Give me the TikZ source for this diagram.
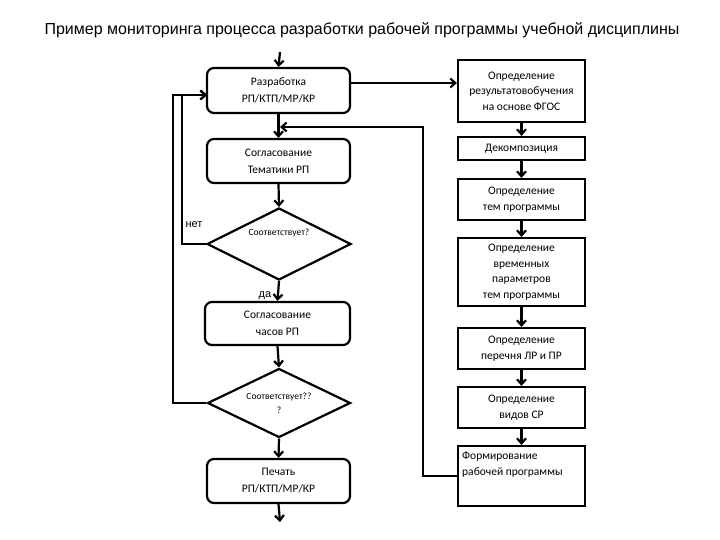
\documentclass[tikz,border=0pt]{standalone}
\usepackage{fontspec}
\setmainfont{Carlito}
\newfontfamily\titlefont{Liberation Sans}
\usetikzlibrary{arrows.meta,shapes.geometric}
\begin{document}
\begin{tikzpicture}[x=1pt,y=-1pt,
  lw/.style={line width=2.2pt},
  arr/.style={lw,-{Straight Barb[length=5pt,width=9pt,line width=2.2pt]}},
  rbox/.style={draw,lw,rounded corners=7pt,minimum width=143pt,align=center,
     font=\fontsize{11.5}{17}\selectfont,inner sep=0pt},
  sbox/.style={draw,lw,minimum width=127pt,align=center,
     font=\fontsize{11.5}{15.5}\selectfont,inner sep=0pt},
  dia/.style={draw,lw,diamond,aspect=2,minimum width=144pt,minimum height=72pt,
     inner sep=0pt,align=center,font=\fontsize{9.5}{14}\selectfont},
  lbl/.style={font=\fontsize{11}{13}\selectfont\titlefont}
]
\useasboundingbox (0,0) rectangle (720,540);
\node[font=\fontsize{16}{18}\selectfont\titlefont] (title) at (362,30)
  {Пример мониторинга процесса разработки рабочей программы учебной дисциплины};

% left column
\node[rbox,minimum height=45pt] (b1) at (278.5,90.5) {Разработка\\РП/КТП/МР/КР};
\node[rbox,minimum height=44pt] (b2) at (278.5,161) {Согласование\\Тематики РП};
\node[dia] (d1) at (279,244) {Соответствует?\\[10pt]};
\node[rbox,minimum width=145pt,minimum height=43pt] (b3) at (277.5,323.5) {Согласование\\часов РП};
\node[dia,minimum width=143pt,minimum height=69pt] (d2) at (279,403) {Соответствует??\\?};
\node[rbox,minimum height=44pt] (b4) at (278.5,481) {Печать\\РП/КТП/МР/КР};

\coordinate (top) at (280,52);
\coordinate (bot) at (280,522);
\coordinate (m) at (280,127);
\coordinate (in1) at (207,95);

\draw[arr] (top) -- (b1.north);
\draw[arr] (b1.south) -- (b2.north);
\draw[arr] (b2.south) -- (d1.north);
\draw[arr] (d1.south) -- (b3.north);
\draw[arr] (b3.south) -- (d2.north);
\draw[arr] (d2.south) -- (b4.north);
\draw[arr] (b4.south) -- (bot);

\draw[arr] (d2.west) -- (173,403) -- (173,95) -- (in1);
\draw[arr] (d1.west) -- (182,244) -- (182,95) -- (in1);

\node[lbl] (net) at (194,225) {нет};
\node[lbl] (da) at (265,296) {да};

% right column
\node[sbox,minimum height=62pt] (r1) at (521.5,91) {Определение\\результатовобучения\\на основе ФГОС};
\node[sbox,minimum height=23pt] (r2) at (521.5,148.5) {Декомпозиция};
\node[sbox,minimum height=41pt] (r3) at (521.5,199.5) {Определение\\тем программы};
\node[sbox,minimum height=68pt] (r4) at (521.5,272) {Определение\\временных\\параметров\\тем программы};
\node[sbox,minimum height=41pt] (r5) at (521.5,348.5) {Определение\\перечня ЛР и ПР};
\node[sbox,minimum height=41pt] (r6) at (521.5,407.5) {Определение\\видов СР};
\node[sbox,minimum height=60pt] (r7) at (521.5,476) {};
\node[anchor=north west,align=left,inner sep=0pt,font=\fontsize{11.5}{15.5}\selectfont] (r7t) at (462,452) {Формирование\\рабочей программы};

\draw[arr] (b1.east |- 0,83) coordinate (a) -- (a -| r1.west);
\draw[arr] (r1) -- (r2);
\draw[arr] (r2) -- (r3);
\draw[arr] (r3) -- (r4);
\draw[arr] (r4) -- (r5);
\draw[arr] (r5) -- (r6);
\draw[arr] (r6) -- (r7);
\draw[arr] (r7.west) -- (423,476) -- (423,127) -- (m);
\end{tikzpicture}
\end{document}
